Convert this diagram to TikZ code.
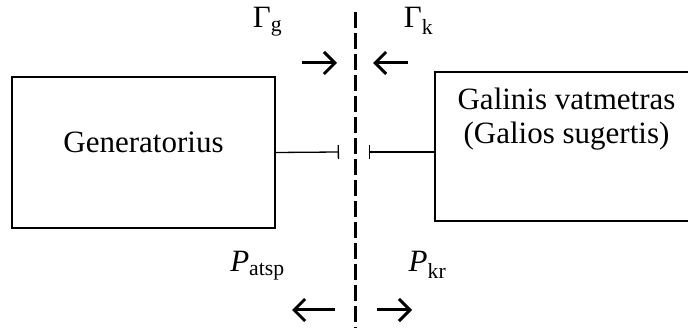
\documentclass[tikz,border=0pt]{standalone}
\usepackage{fontspec}
\setmainfont{Liberation Serif}
\usetikzlibrary{arrows.meta}
\newcommand{\bigtext}{\fontsize{31}{33.5}\selectfont}
\tikzset{
  block/.style={draw=black,line width=2pt,inner sep=0pt},
  caption/.style={font=\bigtext,align=center,inner sep=0pt},
  link/.style={line width=1.3pt,-{Bar[width=14pt]}},
  flow/.style={line width=3pt,-{Straight Barb[length=11pt,width=22pt]}},
  plane/.style={line width=3pt,dash pattern=on 16pt off 5pt}
}
\begin{document}
\begin{tikzpicture}[x=1pt,y=-1pt]
  \useasboundingbox (0,0) rectangle (688,328);
  \clip (0,0) rectangle (688,328);

  % the two blocks
  \node[block, minimum width=263pt, minimum height=151pt] (gen) at (143.5,152.5) {};
  \node[block, minimum width=285pt, minimum height=149pt] (meter) at (577.5,146.5) {};
  \node[caption, anchor=base] (genlabel) at (143.5,153) {Generatorius};
  \node[caption] (meterlabel) at (566.5,119) {Galinis vatmetras\\(Galios sugertis)};

  % reference plane
  \coordinate (planetop) at (355,12);
  \coordinate (planebot) at (355,328);
  \draw[plane] (planetop) -- (planebot);

  % line ends at the plane
  \coordinate (genbar) at (339,152);
  \coordinate (meterbar) at (369,152);
  \draw[link] (gen.east) -- (genbar);
  \draw[link] (meter.west |- meterbar) -- (meterbar);

  % reflection coefficients
  \node[caption, anchor=base] (gammag) at (267.5,28) {Γ\textsubscript{g}};
  \node[caption, anchor=base] (gammak) at (418.5,28) {Γ\textsubscript{k}};
  \coordinate (ingtail) at (302,63);
  \coordinate (ingtip) at (337,63);
  \coordinate (inktail) at (408,63);
  \coordinate (inktip) at (373,63);
  \draw[flow] (ingtail) -- (ingtip);
  \draw[flow] (inktail) -- (inktip);

  % powers
  \node[caption, anchor=base] (patsp) at (257.5,272) {\textit{P}\textsubscript{atsp}};
  \node[caption, anchor=base] (pkr) at (427.5,272) {\textit{P}\textsubscript{kr}};
  \coordinate (outgtail) at (335,310);
  \coordinate (outgtip) at (292,310);
  \coordinate (outktail) at (377,310);
  \coordinate (outktip) at (412,310);
  \draw[flow] (outgtail) -- (outgtip);
  \draw[flow] (outktail) -- (outktip);
\end{tikzpicture}
\end{document}
